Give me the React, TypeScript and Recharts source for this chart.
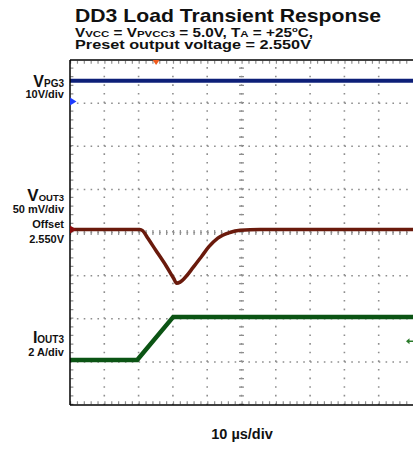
import { LineChart, Line, XAxis, YAxis, ReferenceLine, ReferenceDot } from 'recharts';

// scope screen: 10 horizontal divisions of 10 µs, 8 vertical divisions
const W = 413;
const H = 449;
const TIME_DIV_US = 10;
const X_DIVS = 10;
const Y_DIVS = 8;

// channel settings (ground / offset marker position in divisions from bottom)
const PG3_REF_DIV = 7.04;
const PG3_V_PER_DIV = 10;
const OUT3_REF_DIV = 4.07;
const OUT3_OFFSET_V = 2.55;
const OUT3_MV_PER_DIV = 50;
const IOUT3_REF_DIV = 1.043;
const IOUT3_A_PER_DIV = 2;

// VPG3 trace (V)
const pg3Time = [0, 100];
const pg3Volts = [4.8, 4.8];

// VOUT3 trace (V)
const outTime = [0, 20.3, 21.2, 22.5, 25, 28, 30.2, 31.1, 32.1, 33.5, 35.9, 38.4, 40.5, 43.1, 46.6, 49.6, 55.4, 100];
const outVolts = [2.55, 2.55, 2.5485, 2.541, 2.526, 2.508, 2.4935, 2.4878, 2.489, 2.494, 2.506, 2.519, 2.53, 2.54, 2.5465, 2.549, 2.55, 2.55];

// IOUT3 trace (A)
const ioutTime = [0, 19.6, 30.1, 100];
const ioutAmps = [0, 0, 2.0, 2.0];

const TRIGGER_TIME_US = 25.1;
const IOUT3_TRIG_A = 0.87;

const pg3Data = pg3Time.map((t, i) => ({ t, y: PG3_REF_DIV + pg3Volts[i] / PG3_V_PER_DIV }));
const outData = outTime.map((t, i) => ({ t, y: OUT3_REF_DIV + ((outVolts[i] - OUT3_OFFSET_V) * 1000) / OUT3_MV_PER_DIV }));
const ioutData = ioutTime.map((t, i) => ({ t, y: IOUT3_REF_DIV + ioutAmps[i] / IOUT3_A_PER_DIV }));

const gridX = [1, 2, 3, 4, 6, 7, 8, 9].map((d) => d * TIME_DIV_US);
const gridY = [1, 2, 3, 5, 6, 7];

// plot box: x 70..413, y 60..405 (axes take 1px each from the margins)
const M = { top: 59, right: 0, bottom: 43, left: 69 };
const plotW = W - 70;
const plotH = 405 - 60;
const hStep = plotW / X_DIVS / 5; // minor step along a horizontal line
const vStep = plotH / Y_DIVS / 5;

const DOT = '#8e8e8e';
const FONT = '"Liberation Sans", Arial, Helvetica, sans-serif';

export default function App() {
  const xMax = X_DIVS * TIME_DIV_US;
  const hDots = `1.6 ${hStep - 1.6}`;
  const vDots = `1.6 ${vStep - 1.6}`;
  const hTicks = `1.2 ${hStep - 1.2}`;
  const vTicks = `1.2 ${vStep - 1.2}`;
  const frame = { stroke: '#000', strokeWidth: 1.5 };
  return (
    <div style={{ position: 'absolute', left: 0, top: 0, width: W, height: H, background: '#fff' }}>
      <LineChart width={W} height={H} margin={M}>
        <XAxis dataKey="t" type="number" domain={[0, xMax]} allowDataOverflow height={1} tick={false} tickLine={false} axisLine={frame} />
        <XAxis xAxisId="top" orientation="top" type="number" domain={[0, xMax]} height={1} tick={false} tickLine={false} axisLine={frame} />
        <YAxis type="number" domain={[0, Y_DIVS]} allowDataOverflow width={1} tick={false} tickLine={false} axisLine={frame} />

        {gridY.map((y) => (
          <ReferenceLine key={'gy' + y} y={y} stroke={DOT} strokeWidth={1.5} strokeDasharray={hDots} />
        ))}
        {gridX.map((x) => (
          <ReferenceLine key={'gx' + x} x={x} stroke={DOT} strokeWidth={1.6} strokeDasharray={vDots} />
        ))}
        {/* centre cross with minor ticks */}
        <ReferenceLine y={Y_DIVS / 2} stroke={DOT} strokeWidth={1.5} strokeDasharray={hDots} />
        <ReferenceLine y={Y_DIVS / 2} stroke={DOT} strokeWidth={5} strokeDasharray={hTicks} />
        <ReferenceLine x={xMax / 2} stroke={DOT} strokeWidth={1.6} strokeDasharray={vDots} />
        <ReferenceLine x={xMax / 2} stroke={DOT} strokeWidth={5} strokeDasharray={vTicks} />
        {/* edge ticks */}
        <ReferenceLine y={Y_DIVS - 0.05} stroke={DOT} strokeWidth={3} strokeDasharray={hTicks} />
        <ReferenceLine y={0.05} stroke={DOT} strokeWidth={3} strokeDasharray={hTicks} />
        <ReferenceLine x={0.55} stroke={DOT} strokeWidth={3} strokeDasharray={vTicks} />

        <Line data={pg3Data} dataKey="y" type="linear" stroke="#0d1f78" strokeWidth={4} dot={false} isAnimationActive={false} />
        <Line data={outData} dataKey="y" type="monotone" stroke="#6a1a0c" strokeWidth={3.5} dot={false} isAnimationActive={false} />
        <Line data={ioutData} dataKey="y" type="linear" stroke="#0b5414" strokeWidth={4.5} dot={false} isAnimationActive={false} />

        <ReferenceDot
          x={0}
          y={PG3_REF_DIV}
          r={0}
          shape={(p: any) => <path d={`M${p.cx},${p.cy - 4} L${p.cx + 6.5},${p.cy} L${p.cx},${p.cy + 4} Z`} fill="#1f3cff" />}
        />
        <ReferenceDot
          x={0}
          y={OUT3_REF_DIV}
          r={0}
          shape={(p: any) => <path d={`M${p.cx},${p.cy - 4} L${p.cx + 6.5},${p.cy} L${p.cx},${p.cy + 4} Z`} fill="#8a0d0d" />}
        />
        <ReferenceDot
          x={TRIGGER_TIME_US}
          y={Y_DIVS}
          r={0}
          shape={(p: any) => <path d={`M${p.cx - 3.5},${p.cy} L${p.cx + 3.5},${p.cy} L${p.cx},${p.cy + 5} Z`} fill="#ef5a1c" />}
        />
        <ReferenceDot
          x={xMax}
          y={IOUT3_REF_DIV + IOUT3_TRIG_A / IOUT3_A_PER_DIV}
          r={0}
          shape={(p: any) => (
            <g>
              <path d={`M${p.cx - 7},${p.cy} L${p.cx - 3.5},${p.cy - 3} L${p.cx - 3.5},${p.cy + 3} Z`} fill="#2a7a2a" />
              <line x1={p.cx - 4} y1={p.cy} x2={p.cx} y2={p.cy} stroke="#2a7a2a" strokeWidth={1.5} />
            </g>
          )}
        />
      </LineChart>

      <svg width={W} height={H} style={{ position: 'absolute', left: 0, top: 0, pointerEvents: 'none' }}>
        <g fontFamily={FONT} fontWeight="bold" fill="#111">
          <text x={75} y={21.5} fontSize={19} textLength={306} lengthAdjust="spacingAndGlyphs">
            DD3 Load Transient Response
          </text>
          <text x={75} y={36.8} fontSize={12} textLength={238} lengthAdjust="spacingAndGlyphs">
            V<tspan fontSize={9}>VCC</tspan> = V<tspan fontSize={9}>PVCC3</tspan> = 5.0V, T
            <tspan fontSize={9}>A</tspan> = +25<tspan fontSize={7.5} dy={-5}>o</tspan>
            <tspan dy={5}>C,</tspan>
          </text>
          <text x={75} y={48.7} fontSize={12} textLength={236} lengthAdjust="spacingAndGlyphs">
            Preset output voltage = 2.550V
          </text>

          <g textAnchor="end">
            <text x={64} y={86.7} fontSize={16}>
              V<tspan fontSize={10}>PG3</tspan>
            </text>
            <text x={64} y={98} fontSize={11}>10V/div</text>

            <text x={64} y={200.7} fontSize={17}>
              V<tspan fontSize={9.5}>OUT3</tspan>
            </text>
            <text x={64} y={212.7} fontSize={11}>50 mV/div</text>
            <text x={64} y={228} fontSize={11}>Offset</text>
            <text x={64} y={243} fontSize={11}>2.550V</text>

            <text x={64} y={342.7} fontSize={16}>
              I<tspan fontSize={10}>OUT3</tspan>
            </text>
            <text x={64} y={355.7} fontSize={11}>2 A/div</text>
          </g>

          <text x={242} y={439.3} fontSize={14.5} textAnchor="middle">
            10 µs/div
          </text>
        </g>
      </svg>
    </div>
  );
}
